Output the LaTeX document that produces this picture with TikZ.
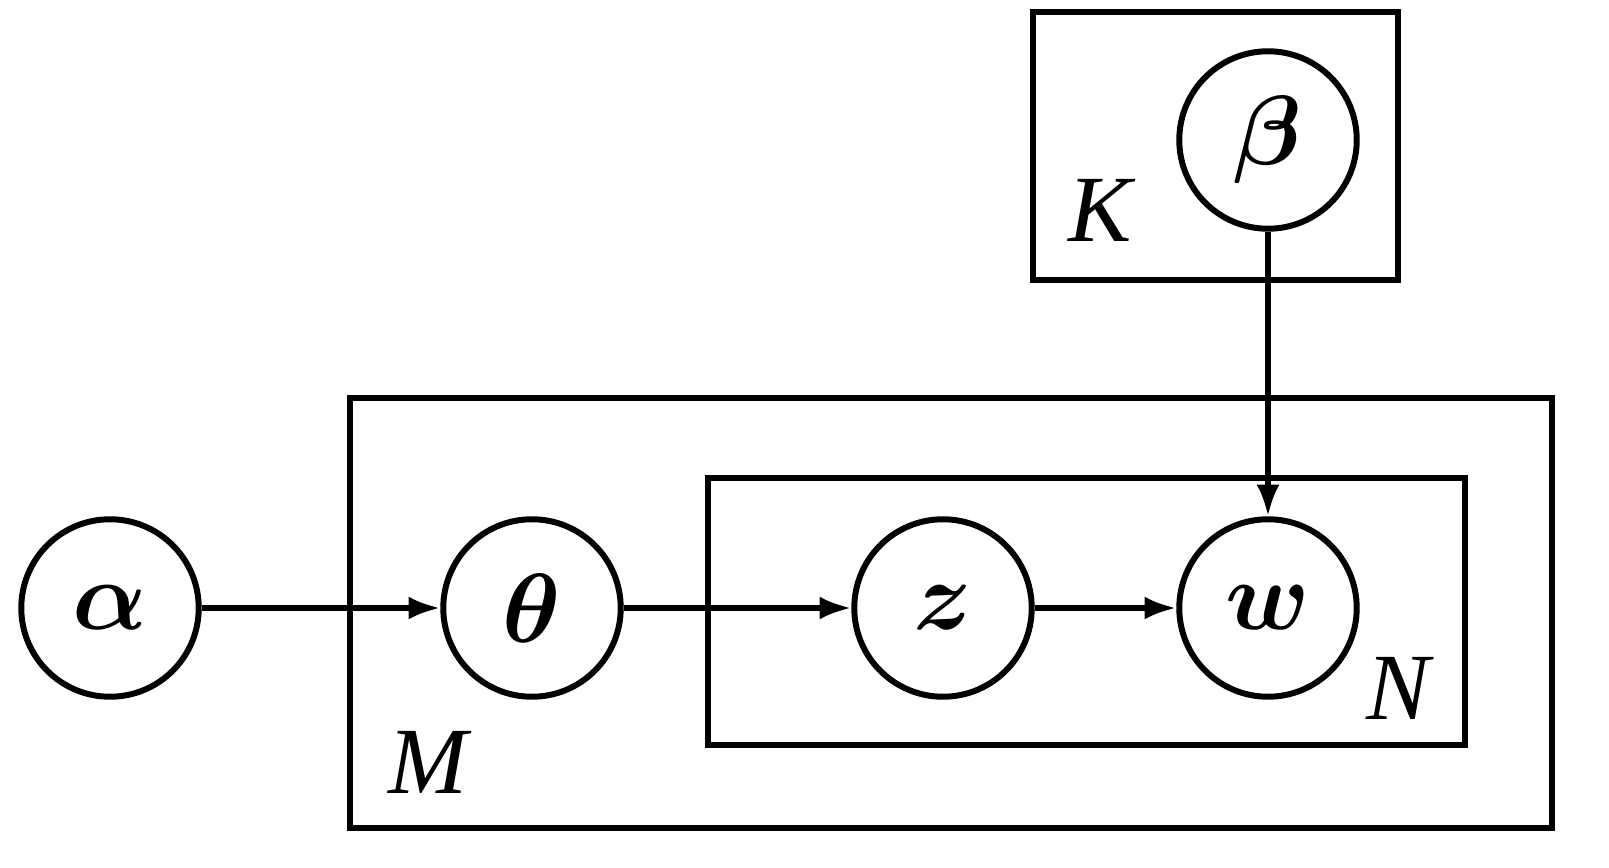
\documentclass[tikz,border=0pt]{standalone}
\usepackage{fontspec}
\setmainfont{Liberation Serif}
\usepackage{amsmath,bm,graphicx}
\usetikzlibrary{arrows.meta}
\newcommand{\bigsym}[1]{\scalebox{5.6}{$\bm{#1}$}}
\begin{document}
\begin{tikzpicture}[x=0.02cm,y=-0.02cm,
  var/.style={circle,draw,line width=3.4pt,minimum size=3.55cm,inner sep=0pt},
  plate/.style={draw,line width=3.6pt},
  lbl/.style={font=\fontsize{54}{56}\selectfont\itshape,inner sep=0pt},
  arr/.style={line width=3pt,-{Latex[length=18pt,width=13pt]}}]
\useasboundingbox (0,0) rectangle (1609,868);
\draw[plate] (1033,12) rectangle (1398,280);
\draw[plate] (350,398) rectangle (1552,828);
\draw[plate] (708,478) rectangle (1465,745);
\node[lbl] (K) at (1100,210) {K};
\node[lbl] (M) at (428,762) {M};
\node[lbl] (N) at (1398,688) {N};
\node[var] (a) at (110,608) {\bigsym{\alpha}};
\node[var] (t) at (532,608) {\bigsym{\theta}};
\node[var] (z) at (943,608) {\bigsym{z}};
\node[var] (w) at (1268,608) {\bigsym{w}};
\node[var] (b) at (1268,140) {\bigsym{\beta}};
\draw[arr] (a) -- (t);
\draw[arr] (t) -- (z);
\draw[arr] (z) -- (w);
\draw[arr] (b) -- (w);
\end{tikzpicture}
\end{document}
